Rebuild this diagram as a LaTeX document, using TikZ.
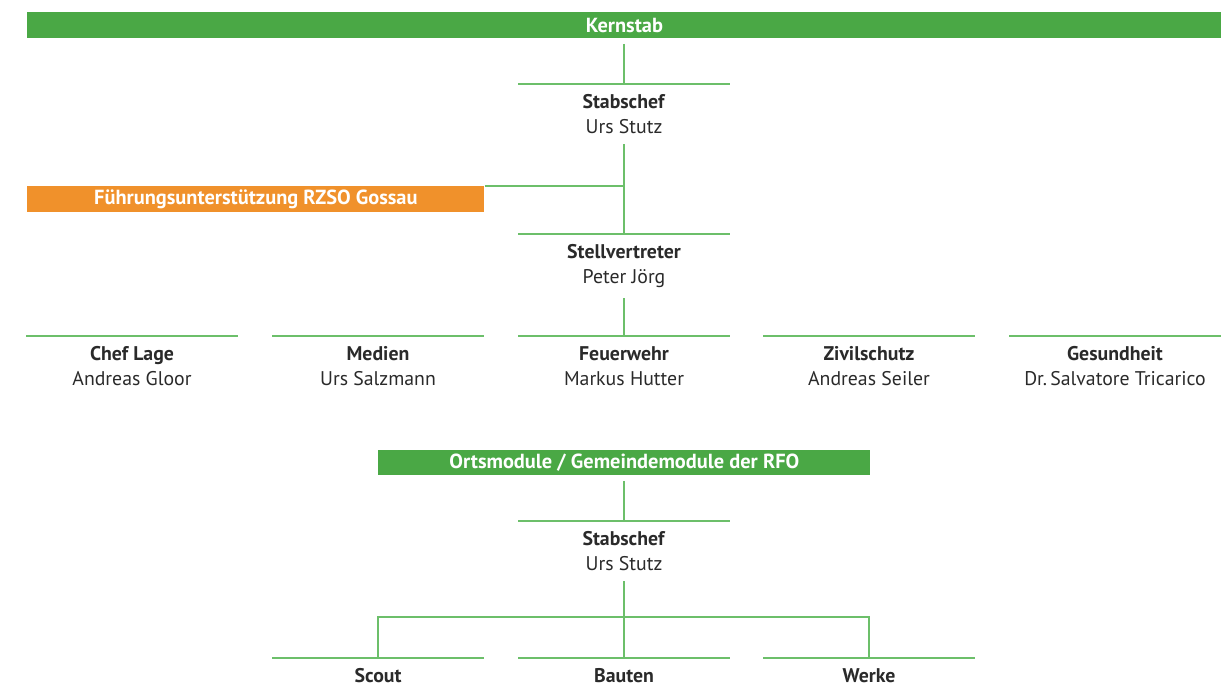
\documentclass[tikz,border=0pt]{standalone}
\usepackage{fontspec}
\setmainfont{PT Sans}
\usetikzlibrary{positioning}

\definecolor{kgreen}{HTML}{4AA845}
\definecolor{korange}{HTML}{F0912B}
\definecolor{klinegreen}{HTML}{6CBF6A}
\definecolor{ktext}{HTML}{2A2A2A}

\tikzstyle{conn} = [draw=klinegreen, line width=0.8pt]
\tikzstyle{bar} = [rectangle, inner sep=0pt, minimum height=13pt, text=white, font=\fontsize{10.2}{11}\selectfont\bfseries, anchor=north west]
\tikzstyle{role} = [rectangle, inner xsep=0pt, inner ysep=5pt, minimum width=105.5pt, align=center, anchor=north, text=ktext, font=\fontsize{9.9}{12.5}\selectfont, append after command={(\tikzlastnode.north west) edge[conn] (\tikzlastnode.north east)}]

\begin{document}
\begin{tikzpicture}[x=0.5pt, y=-0.5pt]
\useasboundingbox (0,0) rectangle (1229,685);

% Define nodes
\node (kern) [bar, fill=kgreen, minimum width=597pt] at (27,12) {Kernstab};
\node (chef) [role] at (624,84) {\textbf{Stabschef}\\Urs Stutz};
\node (fu) [bar, fill=korange, minimum width=228.5pt] at (27,186) {Führungsunterstützung RZSO Gossau};
\node (stv) [role] at (624,234) {\textbf{Stellvertreter}\\Peter Jörg};

\node (lage) [role] at (132,336) {\textbf{Chef Lage}\\Andreas Gloor};
\node (medien) [role] at (378,336) {\textbf{Medien}\\Urs Salzmann};
\node (feuer) [role] at (624,336) {\textbf{Feuerwehr}\\Markus Hutter};
\node (zivil) [role] at (869,336) {\textbf{Zivilschutz}\\Andreas Seiler};
\node (gesund) [role] at (1115,336) {\textbf{Gesundheit}\\Dr.\,Salvatore Tricarico};

\node (orts) [bar, fill=kgreen, minimum width=246pt, minimum height=12.5pt] at (378,450) {Ortsmodule / Gemeindemodule der RFO};
\node (chefo) [role] at (624,521) {\textbf{Stabschef}\\Urs Stutz};

\node (scout) [role] at (378,658) {\textbf{Scout}};
\node (bauten) [role] at (624,658) {\textbf{Bauten}};
\node (werke) [role] at (869,658) {\textbf{Werke}};

% Draw connectors
\draw [conn, shorten <=2.5pt] (kern.south -| chef.north) -- (chef.north);
\draw [conn] (chef.south) -- (stv.north);
\draw [conn] (fu.north east) -- (fu.north east -| chef.south);
\draw [conn] (stv.south) -- (feuer.north);
\draw [conn, shorten <=2.5pt] (orts.south -| chefo.north) -- (chefo.north);
\draw [conn] (chefo.south) -- (bauten.north);
\draw [conn] (scout.north) -- ++(0,-41) -| (werke.north);

\end{tikzpicture}
\end{document}
